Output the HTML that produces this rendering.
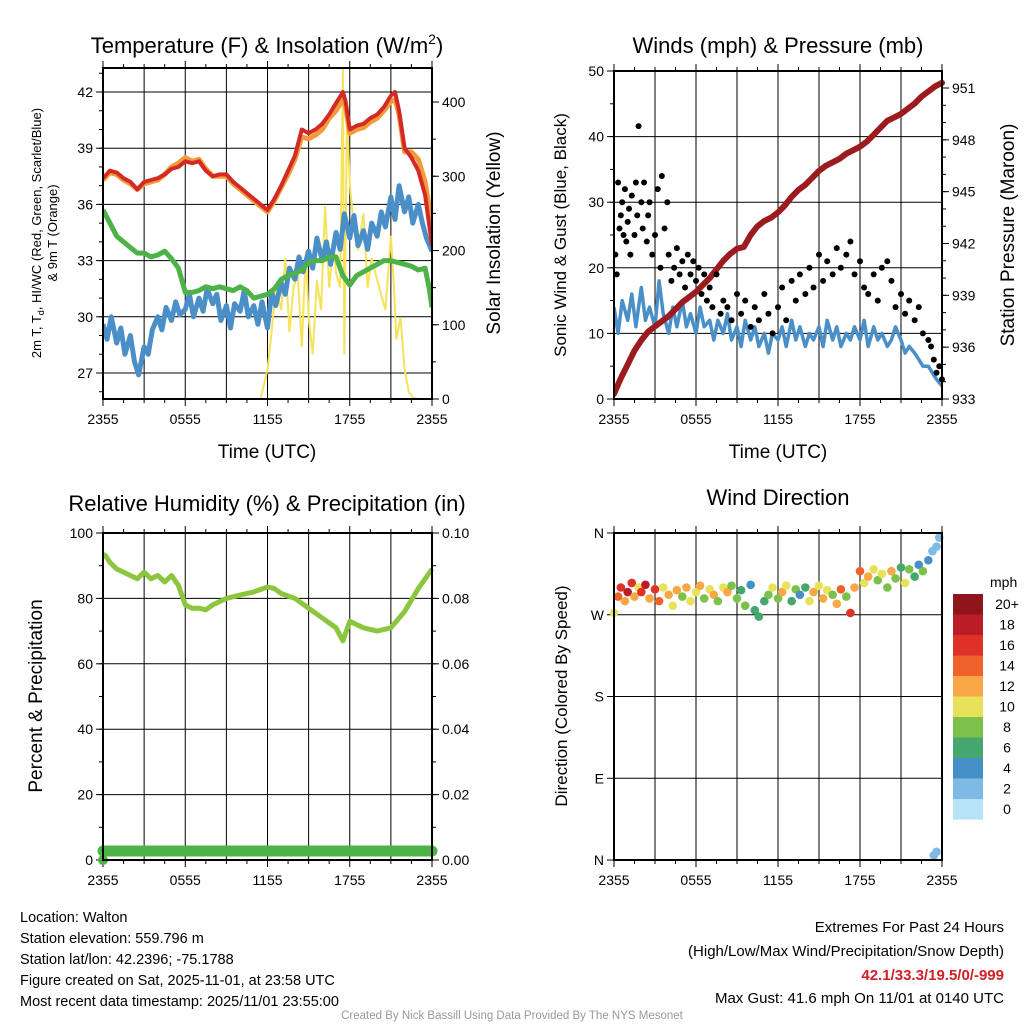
<!DOCTYPE html>
<html><head><meta charset="utf-8"><style>
html,body{margin:0;padding:0;background:#fff;}
svg{display:block;font-family:"Liberation Sans",Arial,sans-serif;}
</style></head><body>
<svg id="s" width="1024" height="1024" viewBox="0 0 1024 1024" xmlns="http://www.w3.org/2000/svg">
<rect width="1024" height="1024" fill="#fff"/>
<text x="267" y="53" font-size="22" text-anchor="middle">Temperature (F) &amp; Insolation (W/m<tspan dy="-9" font-size="14">2</tspan><tspan dy="9">)</tspan></text>
<text x="778" y="53" font-size="22" text-anchor="middle">Winds (mph) &amp; Pressure (mb)</text>
<text x="267" y="511" font-size="22" text-anchor="middle">Relative Humidity (%) &amp; Precipitation (in)</text>
<text x="778" y="505" font-size="22" text-anchor="middle">Wind Direction</text>
<text x="20" y="922" font-size="14.5">Location: Walton</text>
<text x="20" y="943" font-size="14.5">Station elevation: 559.796 m</text>
<text x="20" y="964" font-size="14.5">Station lat/lon: 42.2396; -75.1788</text>
<text x="20" y="985" font-size="14.5">Figure created on Sat, 2025-11-01, at 23:58 UTC</text>
<text x="20" y="1006" font-size="14.5">Most recent data timestamp: 2025/11/01 23:55:00</text>
<text x="1004" y="932" font-size="15" text-anchor="end">Extremes For Past 24 Hours</text>
<text x="1004" y="956" font-size="15" text-anchor="end">(High/Low/Max Wind/Precipitation/Snow Depth)</text>
<text x="1004" y="980" font-size="15" font-weight="bold" fill="#d11f26" text-anchor="end">42.1/33.3/19.5/0/-999</text>
<text x="1004" y="1003" font-size="15" text-anchor="end">Max Gust: 41.6 mph On 11/01 at 0140 UTC</text>
<text x="512" y="1019" font-size="11.5" fill="#999" text-anchor="middle">Created By Nick Bassill Using Data Provided By The NYS Mesonet</text>
</svg>
<script>
// ---------- data ----------
const xTickLabels = ["2355","0555","1155","1755","2355"];
const tempTicks = [27,30,33,36,39,42];
const solarTicks = [0,100,200,300,400];
const tempT = [0,0.5,1,1.5,2,2.5,3,3.5,4,4.5,5,5.5,6,6.5,7,7.5,8,8.5,9,9.5,10,10.5,11,11.5,12,12.5,13,13.5,14,14.5,15,15.5,16,16.5,17,17.5,17.7,18,18.5,19,19.5,20,20.5,21,21.3,21.6,22,22.5,23,23.5,24];
const tempRed = [37.4,37.8,37.7,37.4,37.2,36.8,37.2,37.3,37.4,37.6,37.9,38.0,38.3,38.2,38.3,37.8,37.5,37.6,37.6,37.2,36.9,36.6,36.3,36.0,35.7,36.3,37.0,37.8,38.6,40.0,39.8,40.0,40.3,40.8,41.4,42.0,41.5,40.0,40.2,40.3,40.6,40.8,41.2,41.8,42.0,41.0,39.0,38.5,37.8,36.5,33.8];
const tempOrange = [37.3,37.7,37.6,37.3,37.1,36.8,37.1,37.2,37.3,37.6,38.0,38.2,38.5,38.3,38.4,37.9,37.5,37.5,37.5,37.1,36.8,36.5,36.2,35.9,35.6,36.2,36.9,37.6,38.4,39.6,39.5,39.7,40.0,40.6,41.0,41.6,41.2,39.8,40.0,40.1,40.4,40.6,41.0,41.5,41.6,40.8,38.8,38.8,38.4,37.2,35.0];
const dewT = [0,0.5,1,1.5,2,2.5,3,3.5,4,4.5,5,5.5,6,6.5,7,7.5,8,8.5,9,9.5,10,10.5,11,11.5,12,12.5,13,13.5,14,14.5,15,15.5,16,16.5,17,17.5,18,18.5,19,19.5,20,20.5,21,21.5,22,22.5,23,23.5,23.8,24];
const dewGreen = [35.7,35.0,34.3,34.0,33.7,33.4,33.4,33.2,33.3,33.5,33.1,32.6,31.3,31.3,31.4,31.6,31.5,31.6,31.5,31.4,31.6,31.4,31.0,31.1,31.2,31.5,32.0,32.2,32.3,32.5,32.9,33.0,33.0,33.2,33.2,32.2,31.7,32.2,32.4,32.6,32.8,33.0,33.0,32.9,32.8,32.7,32.5,32.6,31.5,30.5];
const wcT = [0,0.3,0.6,1,1.3,1.6,2,2.3,2.6,3,3.3,3.6,4,4.3,4.6,5,5.3,5.6,6,6.3,6.6,7,7.3,7.6,8,8.3,8.6,9,9.3,9.6,10,10.3,10.6,11,11.3,11.6,12,12.3,12.6,13,13.3,13.6,14,14.3,14.6,15,15.3,15.6,16,16.3,16.6,17,17.3,17.6,18,18.3,18.6,19,19.3,19.6,20,20.3,20.6,21,21.3,21.6,22,22.3,22.6,23,23.3,23.6,24];
const wcBlue = [29.6,28.8,30.0,28.6,29.4,28.0,29.0,27.6,26.9,28.4,28.0,29.3,30.0,29.3,30.5,29.8,30.8,30.1,30.4,31.2,30.0,31.0,30.3,31.5,30.7,31.2,29.8,30.6,29.4,30.7,30.3,31.4,30.0,30.6,29.6,30.8,29.4,31.3,30.6,31.8,31.2,32.6,32.0,33.2,32.4,33.5,32.6,34.2,33.0,34.0,32.8,34.5,33.6,35.5,34.2,35.4,33.8,34.6,33.6,35.0,34.3,35.6,34.8,36.4,35.2,37.0,35.6,36.4,35.0,36.0,35.0,34.2,33.5];
const solarT = [0,11,11.5,12,12.3,12.6,13,13.3,13.6,13.9,14.2,14.5,14.8,15,15.3,15.6,15.9,16.2,16.5,16.8,17,17.3,17.5,17.6,17.8,18,18.3,18.6,19,19.3,19.6,20,20.3,20.6,21,21.2,21.4,21.7,22,22.3,22.6,23,24];
const solarW = [0,0,0,40,90,150,120,190,90,150,170,70,200,110,60,160,120,260,150,210,170,150,445,60,380,290,230,200,250,150,190,160,140,120,220,160,80,110,40,10,2,0,0];
const windTicks = [0,10,20,30,40,50];
const presTicks = [933,936,939,942,945,948,951];
const presT = [0,0.5,1,1.5,2,2.5,3,3.5,4,4.5,5,5.5,6,6.5,7,7.5,8,8.5,9,9.5,10,10.5,11,11.5,12,12.5,13,13.5,14,14.5,15,15.5,16,16.5,17,17.5,18,18.5,19,19.5,20,20.5,21,21.5,22,22.5,23,23.5,24];
const presMb = [933.3,934.2,935.0,935.8,936.4,936.9,937.2,937.5,937.8,938.2,938.6,938.9,939.2,939.6,940.0,940.5,941.0,941.4,941.7,941.8,942.5,943.0,943.3,943.5,943.8,944.2,944.7,945.1,945.4,945.8,946.2,946.5,946.7,946.9,947.2,947.4,947.6,947.9,948.3,948.7,949.1,949.3,949.5,949.8,950.1,950.5,950.8,951.1,951.3];
const windT = [0,0.3,0.6,1,1.3,1.6,2,2.3,2.6,3,3.3,3.6,4,4.3,4.6,5,5.3,5.6,6,6.3,6.6,7,7.3,7.6,8,8.3,8.6,9,9.3,9.6,10,10.3,10.6,11,11.3,11.6,12,12.3,12.6,13,13.3,13.6,14,14.3,14.6,15,15.3,15.6,16,16.3,16.6,17,17.3,17.6,18,18.3,18.6,19,19.3,19.6,20,20.3,20.6,21,21.3,21.6,22,22.3,22.6,23,23.3,23.6,24];
const windSpd = [14,10,15,12,16,11,17,12,14,11,18,13,10,14,11,15,11,13,10,14,11,12,9,12,10,13,9,11,8,12,9,11,8,10,7,10,9,11,8,12,9,11,8,10,9,11,8,12,9,11,8,10,9,11,9,12,8,11,9,10,8,9,11,9,7,8,7,6,5,5,4,3,2];
const gusts = [[0.1,22],[0.2,19],[0.3,33],[0.4,26],[0.5,28],[0.6,30],[0.7,25],[0.8,32],[0.9,24],[1.0,27],[1.1,29],[1.2,22],[1.3,31],[1.5,25],[1.6,33],[1.7,28],[1.8,41.6],[2.0,30],[2.1,26],[2.2,33],[2.4,24],[2.5,28],[2.6,30],[2.8,22],[3.0,25],[3.2,32],[3.4,20],[3.5,34],[3.7,26],[3.9,30],[4.0,22],[4.2,18],[4.4,20],[4.6,23],[4.8,19],[5.0,21],[5.2,17],[5.4,22],[5.6,19],[5.8,21],[6.0,18],[6.2,20],[6.4,16],[6.6,19],[6.8,15],[7.0,17],[7.2,14],[7.5,19],[7.8,13],[8.0,15],[8.3,14],[8.6,12],[9.0,16],[9.3,13],[9.6,15],[10.0,11],[10.3,14],[10.6,12],[11.0,16],[11.3,13],[11.6,10],[12.0,14],[12.3,17],[12.6,12],[13.0,18],[13.3,15],[13.6,19],[14.0,16],[14.3,20],[14.6,17],[15.0,22],[15.3,18],[15.6,21],[16.0,19],[16.3,23],[16.6,20],[17.0,22],[17.3,24],[17.6,19],[18.0,21],[18.3,17],[18.6,16],[19.0,19],[19.3,15],[19.6,20],[20.0,21],[20.3,18],[20.6,14],[21.0,16],[21.3,13],[21.6,15],[22.0,12],[22.3,14],[22.6,10],[23.0,9],[23.2,8],[23.4,6],[23.6,4],[23.8,5],[24.0,3]];
const rhTicks = [0,20,40,60,80,100];
const precipTicks = ["0.00","0.02","0.04","0.06","0.08","0.10"];
const rhT = [0,0.2,0.5,1,1.5,2,2.5,3,3.5,4,4.5,5,5.5,6,6.5,7,7.5,8,9,10,11,12,12.5,13,14,15,16,17,17.5,18,18.5,19,20,21,22,23,24];
const rhPct = [93.5,93,91,89,88,87,86,88,86,87,85,87,84,78,77,77,76.5,78,80,81,82,83.5,83,81.5,80,77,74,71,67,73,72,71,70,71,76,83,89];
const precipIn = 0;
const dirLabels = ["N","W","S","E","N"];
const dirTicks = [360,270,180,90,0];
const wdT = [0,0.3,0.5,0.8,1,1.3,1.5,1.8,2,2.3,2.6,3,3.3,3.6,4,4.3,4.6,5,5.3,5.6,6,6.3,6.6,7,7.3,7.6,8,8.3,8.6,9,9.3,9.6,10,10.3,10.6,11,11.3,11.6,12,12.3,12.6,13,13.3,13.6,14,14.3,14.6,15,15.3,15.6,16,16.3,16.6,17,17.3,17.6,18,18.3,18.6,19,19.3,19.6,20,20.3,20.6,21,21.3,21.6,22,22.3,22.6,23,23.3,23.6,23.8,23.4,23.6];
const wdDir = [272,290,300,285,295,305,290,300,295,303,288,298,285,300,292,280,297,290,300,285,295,302,288,298,292,285,300,295,302,288,297,280,303,275,268,285,292,300,288,295,302,285,298,292,300,285,295,302,288,297,292,282,298,290,272,300,318,305,312,320,308,315,300,318,310,322,305,320,312,325,318,330,340,345,355,5,9];
const wdSpd = [11,14,16,12,18,16,13,10,17,18,12,16,14,11,13,10,12,9,13,10,11,12,9,11,13,9,10,12,8,9,6,8,4,7,7,6,8,10,9,12,11,7,9,5,6,10,12,10,13,11,8,12,14,9,17,12,14,10,12,10,8,11,9,13,8,6,10,9,7,5,8,4,3,2,2,3,2];
const cbLabels = ["20+","18","16","14","12","10","8","6","4","2","0"];
const cbColors = ["#8f141b","#bb1c26","#de3128","#f0622b","#f8a745","#e8e25a","#7cc24a","#45a76e","#4690c7","#7dbbe6","#b7e3f7"];

// ---------- helpers ----------
const svg = document.getElementById('s');
const NS = "http://www.w3.org/2000/svg";
function mk(tag, attrs, parent){const e=document.createElementNS(NS,tag);for(const k in attrs)e.setAttribute(k,attrs[k]);(parent||svg).appendChild(e);return e;}
function lin(d0,d1,r0,r1){return v=>r0+(v-d0)*(r1-r0)/(d1-d0);}
function pathD(xs,ys,fx,fy){return xs.map((t,i)=>(i?'L':'M')+fx(t).toFixed(1)+','+fy(ys[i]).toFixed(1)).join('');}

function frame(x0,x1,y0,y1,xlabels){
  const g=mk('g',{});
  
  
  const fx=lin(0,24,x0,x1);
  for(let h=3;h<24;h+=3){const l=mk('line',{x1:fx(h),x2:fx(h),y1:y0,y2:y1,stroke:'#000','stroke-width':1},g);
    }
  for(let h=0;h<=24;h+=1.5){mk('line',{x1:fx(h),x2:fx(h),y1:y1,y2:y1+(h%6==0?7:4),stroke:'#000'},g);mk('line',{x1:fx(h),x2:fx(h),y1:y0,y2:y0-(h%6==0?7:4),stroke:'#000'},g);}
  xlabels.forEach((s,i)=>{const t=mk('text',{x:fx(i*6),y:y1+25,'font-size':14,'text-anchor':'middle'},svg);t.textContent=s;
    });
  return fx;
}
function border(x0,x1,y0,y1){const r=mk('rect',{x:x0,y:y0,width:x1-x0,height:y1-y0,fill:'none',stroke:'#000','stroke-width':2});
  }
function yAxis(x0,x1,fy,ticks,labels,side,minorStep,ymin,ymax,grid){
  ticks.forEach((v,i)=>{const y=fy(v);
    if(grid){const l=mk('line',{x1:x0,x2:x1,y1:y,y2:y,stroke:'#000','stroke-width':1});}
    const xe=side=='L'?x0:x1;const d=side=='L'?-7:7;
    mk('line',{x1:xe,x2:xe+d,y1:y,y2:y,stroke:'#000'});
    const t=mk('text',{x:side=='L'?x0-10:x1+10,y:y+5,'font-size':14,'text-anchor':side=='L'?'end':'start'});
    t.textContent=labels?labels[i]:v;
    
  });
  if(minorStep){for(let v=Math.ceil(ymin/minorStep)*minorStep;v<=ymax;v+=minorStep){const y=fy(v);const xe=side=='L'?x0:x1;mk('line',{x1:xe,x2:xe+(side=='L'?-4:4),y1:y,y2:y,stroke:'#000'});}}
}
function rotText(x,y,s,size,name){const t=mk('text',{x:x,y:y,'font-size':size,'text-anchor':'middle',transform:`rotate(-90 ${x} ${y})`});t.textContent=s;
  return t;}
function hText(x,y,s,name){const t=mk('text',{x:x,y:y,'font-size':19,'text-anchor':'middle'});t.textContent=s;}

// ---------- panel 1 ----------
{
  const X0=103,X1=432,Y0=68,Y1=399;
  const fx=frame(X0,X1,Y0,Y1,xTickLabels);
  const fy=lin(42,27,92,373);
  const fs=lin(0,400,399,102);
  yAxis(X0,X1,fy,tempTicks,null,'L',1,26,43,true);
  yAxis(X0,X1,fs,solarTicks,null,'R',50,0,440,false);
  const cp=mk('clipPath',{id:'c1'});mk('rect',{x:X0,y:Y0-2,width:X1-X0,height:Y1-Y0+2},cp);
  const g=mk('g',{'clip-path':'url(#c1)'});
  
  let p;
  p=mk('path',{d:pathD(solarT,solarW,fx,fs),fill:'none',stroke:'#f6e35a','stroke-width':2},g);
  p=mk('path',{d:pathD(wcT,wcBlue,fx,fy),fill:'none',stroke:'#4a8fc8','stroke-width':5,'stroke-linejoin':'round'},g);
  p=mk('path',{d:pathD(dewT,dewGreen,fx,fy),fill:'none',stroke:'#4db348','stroke-width':5,'stroke-linejoin':'round'},g);
  p=mk('path',{d:pathD(tempT,tempOrange,fx,fy),fill:'none',stroke:'#f39a3a','stroke-width':5,'stroke-linejoin':'round'},g);
  p=mk('path',{d:pathD(tempT,tempRed,fx,fy),fill:'none',stroke:'#d42a25','stroke-width':4,'stroke-linejoin':'round'},g);
  border(X0,X1,Y0,Y1);
  const t=mk('text',{x:0,y:0,'font-size':13,'text-anchor':'middle',transform:'translate(41 233) rotate(-90)'});
  t.innerHTML='2m T, T<tspan font-size="9" dy="3">d</tspan><tspan dy="-3">, HI/WC (Red, Green, Scarlet/Blue)</tspan>';
  
  rotText(57,233,'& 9m T (Orange)',13,'left-y-axis-title-line2');
  rotText(500,233,'Solar Insolation (Yellow)',19,'right-y-axis-title');
  hText(267,458,'Time (UTC)','x-axis-title');
}
// ---------- panel 2 ----------
{
  const X0=614,X1=942,Y0=71,Y1=399;
  const fx=frame(X0,X1,Y0,Y1,xTickLabels);
  const fy=lin(0,50,399,71);
  const fp=lin(933,951,399,88);
  yAxis(X0,X1,fy,windTicks,null,'L',5,0,50,true);
  yAxis(X0,X1,fp,presTicks,null,'R',1,933,951.8,false);
  const cp=mk('clipPath',{id:'c2'});mk('rect',{x:X0,y:Y0-4,width:X1-X0+4,height:Y1-Y0+8},cp);
  const g=mk('g',{'clip-path':'url(#c2)'});
  
  let p=mk('path',{d:pathD(windT,windSpd,fx,fy),fill:'none',stroke:'#4a8fc8','stroke-width':3.5,'stroke-linejoin':'round'},g);
  
  p=mk('path',{d:pathD(presT,presMb,fx,fp),fill:'none',stroke:'#9b1b1e','stroke-width':6,'stroke-linejoin':'round','stroke-linecap':'round'},g);
  
  gusts.forEach(d=>{const c=mk('circle',{cx:fx(d[0]),cy:fy(d[1]),r:3,fill:'#000'},g);
    });
  border(X0,X1,Y0,Y1);
  rotText(566,235,'Sonic Wind & Gust (Blue, Black)',17,'left-y-axis-title');
  rotText(1014,235,'Station Pressure (Maroon)',19,'right-y-axis-title');
  hText(778,458,'Time (UTC)','x-axis-title');
}
// ---------- panel 3 ----------
{
  const X0=103,X1=432,Y0=533,Y1=860;
  const fx=frame(X0,X1,Y0,Y1,xTickLabels);
  const fy=lin(0,100,860,533);
  yAxis(X0,X1,fy,rhTicks,null,'L',10,0,100,true);
  yAxis(X0,X1,fy,rhTicks,precipTicks,'R',10,0,100,false);
  let p=mk('path',{d:pathD(rhT,rhPct,fx,fy),fill:'none',stroke:'#8cc63f','stroke-width':5,'stroke-linejoin':'round'});
  
  const pv=lin(0,0.1,860,533);
  p=mk('line',{x1:fx(0),x2:fx(24),y1:pv(precipIn)-9,y2:pv(precipIn)-9,stroke:'#4db348','stroke-width':11,'stroke-linecap':'round'});
  
  const c=mk('circle',{cx:fx(0),cy:pv(precipIn),r:5,fill:'#4db348'});
  
  border(X0,X1,Y0,Y1);
  rotText(42,696,'Percent & Precipitation',19,'left-y-axis-title');
}
// ---------- panel 4 ----------
{
  const X0=614,X1=942,Y0=533,Y1=860;
  const fx=frame(X0,X1,Y0,Y1,xTickLabels);
  const fy=lin(360,0,533,860);
  yAxis(X0,X1,fy,dirTicks,dirLabels,'L',0,0,0,true);
  const lv=s=>Math.min(10,Math.max(0,Math.floor(s/2)));
  wdT.forEach((t,i)=>{const c=mk('circle',{cx:fx(t),cy:fy(wdDir[i]),r:4.3,fill:cbColors[10-lv(wdSpd[i])]});
    });
  border(X0,X1,Y0,Y1);
  rotText(567,696,'Direction (Colored By Speed)',17,'left-y-axis-title');
  const mt=mk('text',{x:990,y:587,'font-size':14});mt.textContent='mph';
  
  cbColors.forEach((c,i)=>{const r=mk('rect',{x:953,y:594+i*20.5,width:30,height:20.6,fill:c});
    
    const t=mk('text',{x:1007,y:609+i*20.5,'font-size':14,'text-anchor':'middle'});t.textContent=cbLabels[i];
    });
}
</script>
</body></html>
